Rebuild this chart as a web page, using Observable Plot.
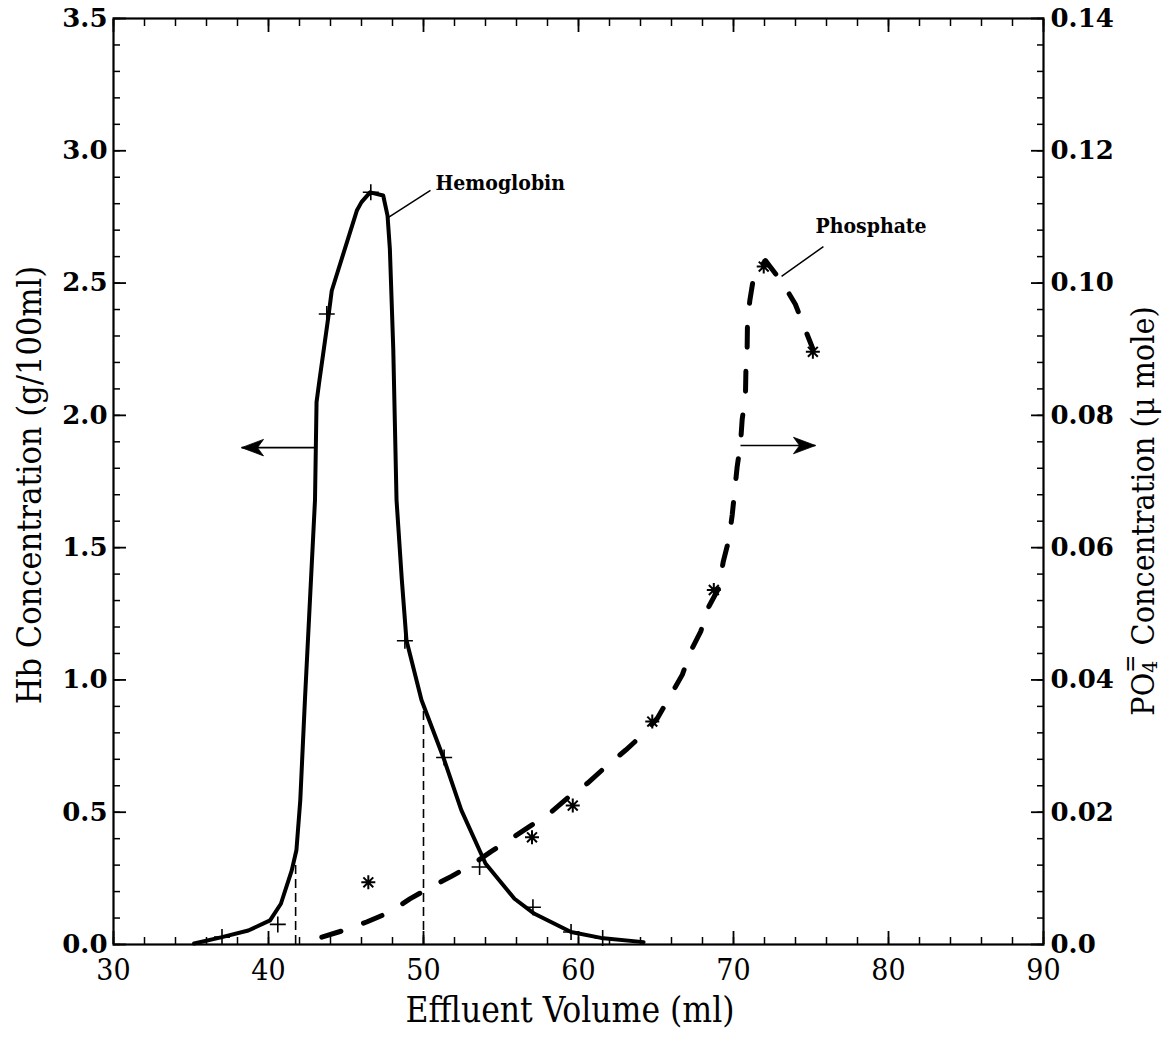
<!DOCTYPE html>
<html>
<head>
<meta charset="utf-8">
<script src="https://cdn.jsdelivr.net/npm/d3@7"></script>
<script src="https://cdn.jsdelivr.net/npm/@observablehq/plot@0.6"></script>
<style>
  body { margin: 0; background: #fff; }
  #chart svg { display: block; }
</style>
</head>
<body>
<div id="chart"></div>
<script>
// ---------- data ----------
// Hemoglobin curve (left axis, g/100ml) vs effluent volume (ml)
const hbVolume = [35.2, 37.0, 38.7, 40.1, 40.8, 41.5, 41.8, 42.05, 42.35, 43.0, 43.1, 43.27, 43.87, 44.08, 45.7, 46.0, 46.55, 47.4, 47.68, 47.83, 48.05, 48.26, 48.6, 48.9, 49.87, 51.27, 52.44, 54.0, 55.87, 57.16, 59.52, 61.45, 64.2];
const hbConc   = [0.004, 0.028, 0.053, 0.091, 0.154, 0.28, 0.356, 0.545, 0.924, 1.68, 2.05, 2.125, 2.376, 2.471, 2.774, 2.806, 2.843, 2.831, 2.755, 2.629, 2.25, 1.68, 1.38, 1.15, 0.924, 0.709, 0.508, 0.306, 0.173, 0.116, 0.047, 0.025, 0.009];
// Hemoglobin measured points (+)
const hbMarkVolume = [37.0, 40.6, 43.76, 46.6, 48.8, 51.33, 53.62, 57.06, 59.52, 61.56];
const hbMarkConc   = [0.028, 0.076, 2.383, 2.843, 1.148, 0.707, 0.293, 0.141, 0.047, 0.025];
// Phosphate curve (right axis, µmole)
const po4Volume = [43.44, 44.94, 46.33, 47.83, 49.12, 50.41, 51.80, 53.09, 54.33, 55.66, 56.95, 58.23, 59.41, 60.59, 61.77, 63.05, 64.13, 65.09, 65.95, 66.70, 67.23, 67.88, 68.41, 69.05, 69.34, 69.70, 69.92, 70.02, 70.24, 70.45, 70.56, 70.77, 70.8, 70.88, 70.9, 71.05, 71.31, 72.06, 73.23, 73.99, 74.57, 75.13];
const po4Conc   = [0.0011, 0.0022, 0.0034, 0.0049, 0.0069, 0.0086, 0.0103, 0.0120, 0.0140, 0.0160, 0.0180, 0.0200, 0.0224, 0.0244, 0.0269, 0.0294, 0.0317, 0.0342, 0.0377, 0.0408, 0.0443, 0.0473, 0.0511, 0.0539, 0.0579, 0.0612, 0.0650, 0.0673, 0.0723, 0.0756, 0.0794, 0.0829, 0.0867, 0.0900, 0.0938, 0.0973, 0.1011, 0.1034, 0.0998, 0.0968, 0.0933, 0.0900];
// Phosphate measured points (*)
const po4MarkVolume = [46.44, 57.0, 59.63, 64.76, 68.73, 71.95, 75.12];
const po4MarkConc   = [0.0094, 0.0162, 0.0210, 0.0337, 0.0536, 0.1025, 0.0896];
// dashed drop lines under the Hb peak
const dropVolume = [41.75, 50.0];
const dropTop    = [0.30, 0.89];
// axes
const xTicks      = [30, 40, 50, 60, 70, 80, 90];
const xMinorTicks = d3.range(30, 90.001, 2);
const leftTicks   = [0, 0.5, 1.0, 1.5, 2.0, 2.5, 3.0, 3.5];
const leftMinor   = d3.range(0, 36).map(i => i / 10).filter(v => v <= 3.5);
const rightTicks  = [0, 0.02, 0.04, 0.06, 0.08, 0.10, 0.12, 0.14];
const xDomain = [30, 90];
const leftDomain = [0, 3.5];
const rightDomain = [0, 0.14];
// annotations
const labelText   = ["Hemoglobin", "Phosphate"];
const labelVolume = [50.77, 75.29];
const labelConc   = [2.876, 2.714];
const pointerFromVolume = [47.74, 73.1];
const pointerFromConc   = [2.748, 2.525];
const pointerToVolume   = [50.45, 75.8];
const pointerToConc     = [2.85, 2.638];
// direction arrows (which axis each curve belongs to)
const arrowFromVolume = [43.1, 70.45];
const arrowToVolume   = [38.26, 75.29];
const arrowConc       = [1.878, 1.886];
const arrowRotate     = [-90, 90];

// ---------- derived tables ----------
const k = leftDomain[1] / rightDomain[1]; // right -> left scale factor
const hb = hbVolume.map((v, i) => ({v, c: hbConc[i]}));
const hbMarks = hbMarkVolume.map((v, i) => ({v, c: hbMarkConc[i]}));
const po4 = po4Volume.map((v, i) => ({v, c: po4Conc[i] * k}));
const po4Marks = po4MarkVolume.map((v, i) => ({v, c: po4MarkConc[i] * k}));
const drops = dropVolume.map((v, i) => ({v, top: dropTop[i]}));
const labels = labelText.map((t, i) => ({t, v: labelVolume[i], c: labelConc[i]}));
const pointers = pointerFromVolume.map((v, i) => ({x1: v, y1: pointerFromConc[i], x2: pointerToVolume[i], y2: pointerToConc[i]}));
const arrows = arrowFromVolume.map((v, i) => ({x1: v, x2: arrowToVolume[i], y: arrowConc[i], rot: arrowRotate[i]}));
const rightTicksLeftUnits = rightTicks.map(t => t * k);
const rightMinorLeftUnits = leftMinor;

// ---------- custom symbols ----------
const plusSymbol = {draw(ctx, size) { const r = Math.sqrt(size / Math.PI); ctx.moveTo(-r, 0); ctx.lineTo(r, 0); ctx.moveTo(0, -r); ctx.lineTo(0, r); }};
const starSymbol = {draw(ctx, size) {
  const r = Math.sqrt(size / Math.PI);
  for (let a = 0; a < 4; a++) {
    const t = a * Math.PI / 4;
    ctx.moveTo(-r * Math.cos(t), -r * Math.sin(t));
    ctx.lineTo(r * Math.cos(t), r * Math.sin(t));
  }
}};
const headSymbol = {draw(ctx, size) {
  const r = Math.sqrt(size / Math.PI);
  ctx.moveTo(0, 0); ctx.lineTo(-0.75 * r, 2 * r); ctx.lineTo(0, 1.45 * r); ctx.lineTo(0.75 * r, 2 * r); ctx.closePath();
}};

const tickFont = "DejaVu Serif";
const titleFont = "DejaVu Serif Condensed";
const noLabel = () => "";

const plot = Plot.plot({
  width: 1166,
  height: 1038,
  marginLeft: 113,
  marginRight: 123,
  marginTop: 18,
  marginBottom: 94,
  style: {background: "white", color: "black"},
  x: {domain: xDomain, label: null},
  y: {domain: leftDomain, label: null},
  marks: [
    // inward ticks on all four sides
    Plot.axisX(xMinorTicks, {anchor: "bottom", tickSize: -7, tickFormat: noLabel, strokeWidth: 1.5, label: null}),
    Plot.axisX(xTicks, {anchor: "bottom", tickSize: -13, tickFormat: noLabel, strokeWidth: 1.8, label: null}),
    Plot.axisX(xMinorTicks, {anchor: "top", tickSize: -7, tickFormat: noLabel, strokeWidth: 1.5, label: null}),
    Plot.axisX(xTicks, {anchor: "top", tickSize: -13, tickFormat: noLabel, strokeWidth: 1.8, label: null}),
    Plot.axisY(leftMinor, {anchor: "left", tickSize: -7, tickFormat: noLabel, strokeWidth: 1.5, label: null}),
    Plot.axisY(leftTicks, {anchor: "left", tickSize: -13, tickFormat: noLabel, strokeWidth: 1.8, label: null}),
    Plot.axisY(rightMinorLeftUnits, {anchor: "right", tickSize: -7, tickFormat: noLabel, strokeWidth: 1.5, label: null}),
    Plot.axisY(rightTicksLeftUnits, {anchor: "right", tickSize: -13, tickFormat: noLabel, strokeWidth: 1.8, label: null}),
    // tick labels
    Plot.axisX(xTicks, {anchor: "bottom", tickSize: 0, tickPadding: 14, tickFormat: d3.format("d"), fontFamily: titleFont, fontSize: 30, label: null}),
    Plot.axisY(leftTicks, {anchor: "left", tickSize: 0, tickPadding: 6, tickFormat: d3.format(".1f"), fontFamily: tickFont, fontWeight: "bold", fontSize: 26, label: null}),
    Plot.axisY(rightTicksLeftUnits, {anchor: "right", tickSize: 0, tickPadding: 7,
      tickFormat: d => { const r = d / k; return r === 0 ? "0.0" : d3.format(".2f")(r); },
      fontFamily: tickFont, fontWeight: "bold", fontSize: 26, label: null}),
    Plot.frame({strokeWidth: 2.2}),
    // drop lines
    Plot.ruleX(drops, {x: "v", y1: 0, y2: "top", strokeWidth: 1.6, strokeDasharray: "9,5"}),
    // curves
    Plot.line(hb, {x: "v", y: "c", strokeWidth: 4, strokeLinejoin: "round", strokeLinecap: "round"}),
    Plot.line(po4, {x: "v", y: "c", strokeWidth: 5, strokeDasharray: "20,24", strokeLinecap: "round", strokeLinejoin: "round"}),
    // measured points
    Plot.dot(hbMarks, {x: "v", y: "c", symbol: plusSymbol, r: 8, stroke: "black", fill: "none", strokeWidth: 1.6}),
    Plot.dot(po4Marks, {x: "v", y: "c", symbol: starSymbol, r: 7, stroke: "black", fill: "none", strokeWidth: 2}),
    // annotations
    Plot.link(pointers, {x1: "x1", y1: "y1", x2: "x2", y2: "y2", strokeWidth: 1.5}),
    Plot.text(labels, {x: "v", y: "c", text: "t", textAnchor: "start", fontFamily: titleFont, fontWeight: "bold", fontSize: 21}),
    Plot.link(arrows, {x1: "x1", x2: "x2", y1: "y", y2: "y", strokeWidth: 1.6}),
    Plot.dot(arrows, {x: "x2", y: "y", symbol: headSymbol, r: 11, rotate: "rot", fill: "black", stroke: "black", strokeWidth: 0.8})
  ]
});

document.getElementById("chart").appendChild(plot);

// ---------- axis titles ----------
const svg = d3.select(plot);
const xr = plot.scale("x").range;
const yr = plot.scale("y").range;
const midX = (xr[0] + xr[1]) / 2;
const midY = (yr[0] + yr[1]) / 2;

svg.append("text")
  .attr("x", midX - 8).attr("y", yr[0] + 78)
  .attr("text-anchor", "middle")
  .attr("font-family", titleFont).attr("font-size", 35).attr("fill", "black")
  .text("Effluent Volume (ml)");

svg.append("text")
  .attr("transform", `translate(${xr[0] - 84},${midY + 4}) rotate(-90)`)
  .attr("text-anchor", "middle").attr("dominant-baseline", "central")
  .attr("font-family", titleFont).attr("font-size", 34).attr("fill", "black")
  .text("Hb Concentration (g/100ml)");

const rt = svg.append("text")
  .attr("transform", `translate(${xr[1] + 100},${midY + 30}) rotate(-90)`)
  .attr("text-anchor", "middle").attr("dominant-baseline", "central")
  .attr("font-family", titleFont).attr("font-size", 32).attr("fill", "black");
rt.append("tspan").text("PO");
rt.append("tspan").attr("font-size", 21).attr("dy", 7).text("4");
rt.append("tspan").attr("font-size", 24).attr("dx", -12).attr("dy", -20).text("=");
rt.append("tspan").attr("dy", 13).text(" Concentration (\u03BC mole)");
</script>
</body>
</html>
